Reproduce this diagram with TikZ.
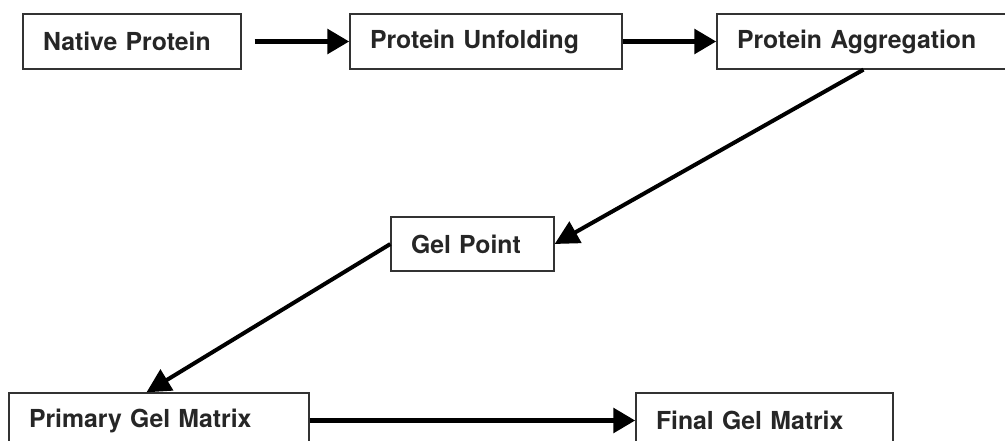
\documentclass[tikz,border=0pt]{standalone}
\usepackage{fontspec}
\setmainfont{TeX Gyre Heros}
\usepackage{tikz}
\usetikzlibrary{arrows.meta}

\tikzset{
    box/.style={draw=black!80, line width=1.3pt, minimum height=55pt, inner xsep=20pt,
        align=left, text=black!85, font=\fontsize{24.8}{30}\selectfont\bfseries},
    flow/.style={line width=5.5pt, -{Triangle[length=22pt,width=24pt]}},
    slant/.style={line width=4pt, -{Triangle[length=24pt,width=24pt]}}
}

\begin{document}
\begin{tikzpicture}[x=1pt,y=-1pt]
    \useasboundingbox (0,0) rectangle (1005,441);
    \clip (0,0) rectangle (1005,441);

    % top row
    \node[box, text width=178pt] (native) at (132,41.5) {Native Protein};
    \node[box, text width=232pt] (unfold) at (486,41.5) {Protein Unfolding};
    \node[box, text width=253pt] (aggr) at (863.5,41.5) {Protein Aggregation};

    % middle
    \node[box, text width=123pt, minimum height=54pt] (gelpt) at (472.5,244) {Gel Point};

    % bottom row
    \node[box, text width=260pt] (primary) at (159,420.5) {Primary Gel Matrix};
    \node[box, text width=217pt] (final) at (764.5,420.5) {Final Gel Matrix};

    \draw[flow, shorten <=13pt] (native) -- (unfold);
    \draw[flow] (unfold) -- (aggr);
    \draw[slant] (aggr.south) -- (gelpt.east);
    \draw[slant] (gelpt.west) -- (primary.114);
    \draw[flow] (primary) -- (final);

\end{tikzpicture}
\end{document}
